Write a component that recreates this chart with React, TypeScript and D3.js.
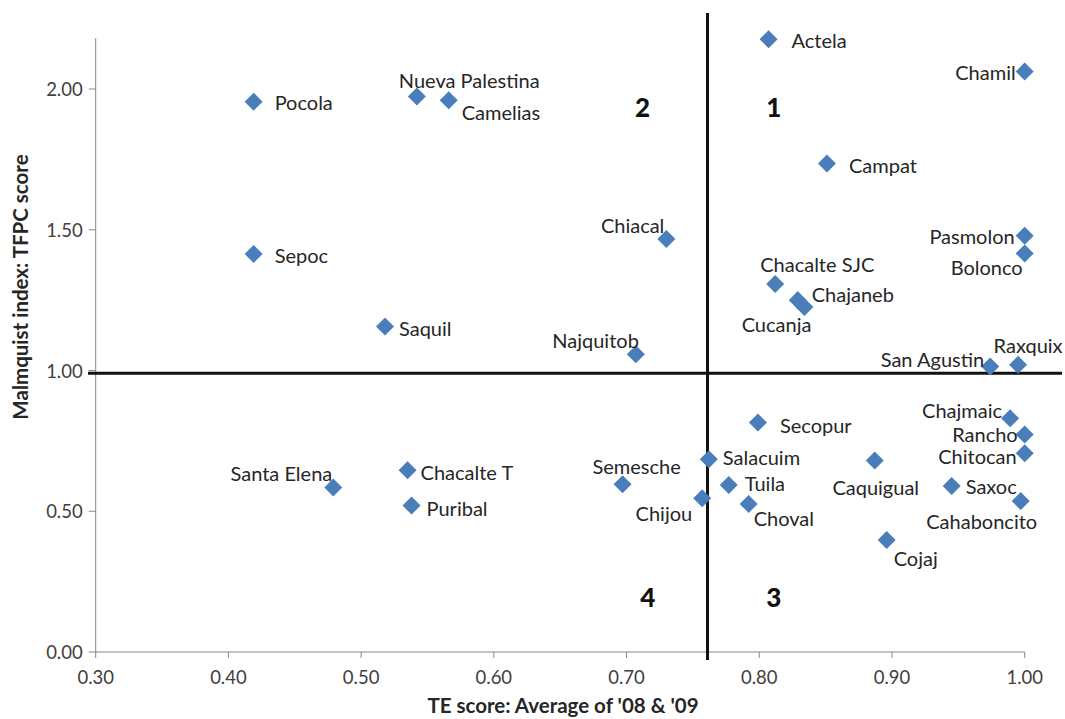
import React from 'react';
import * as d3 from 'd3';

// ---- data ----
const names = [
  'Pocola', 'Sepoc', 'Nueva Palestina', 'Camelias', 'Saquil', 'Chiacal', 'Najquitob',
  'Actela', 'Chamil', 'Campat', 'Pasmolon', 'Bolonco', 'Chacalte SJC', 'Chajaneb', 'Cucanja',
  'San Agustin', 'Raxquix', 'Chajmaic', 'Rancho', 'Chitocan', 'Saxoc', 'Cahaboncito',
  'Secopur', 'Salacuim', 'Semesche', 'Chijou', 'Tuila', 'Choval', 'Caquigual', 'Cojaj',
  'Santa Elena', 'Chacalte T', 'Puribal',
];
const teScores = [
  0.419, 0.419, 0.542, 0.566, 0.518, 0.730, 0.707,
  0.807, 1.000, 0.851, 1.000, 1.000, 0.812, 0.829, 0.834,
  0.974, 0.995, 0.989, 1.000, 1.000, 0.945, 0.997,
  0.799, 0.762, 0.697, 0.757, 0.777, 0.792, 0.887, 0.896,
  0.479, 0.535, 0.538,
];
const tfpcScores = [
  1.955, 1.414, 1.973, 1.960, 1.156, 1.467, 1.058,
  2.177, 2.062, 1.735, 1.479, 1.416, 1.307, 1.250, 1.226,
  1.014, 1.020, 0.830, 0.773, 0.706, 0.590, 0.536,
  0.815, 0.685, 0.596, 0.546, 0.593, 0.526, 0.680, 0.398,
  0.584, 0.646, 0.520,
];
const xTicks = [0.3, 0.4, 0.5, 0.6, 0.7, 0.8, 0.9, 1.0];
const yTicks = [0, 0.5, 1.0, 1.5, 2.0];
const teThreshold = 0.761;
const tfpcThreshold = 0.99;
const quadrantNames = ['1', '2', '3', '4'];
const quadrantTE = [0.811, 0.712, 0.811, 0.716];
const quadrantTFPC = [1.936, 1.936, 0.195, 0.195];
const xTitle = "TE score: Average of '08 & '09";
const yTitle = 'Malmquist index: TFPC score';

// ---- label placement (layout) ----
const labelAnchor = [
  'start', 'start', 'start', 'start', 'start', 'end', 'end',
  'start', 'end', 'start', 'end', 'end', 'start', 'start', 'end',
  'end', 'middle', 'end', 'end', 'end', 'start', 'middle',
  'start', 'start', 'middle', 'end', 'start', 'start', 'middle', 'start',
  'end', 'start', 'start',
];
const labelDx = [
  21, 21, -18, 13, 14, -2, 3,
  23, -9, 22, -10, -2, -15, 14, 7,
  -6, 10, -8, -7, -8, 14, -39,
  22, 14, 14, -10, 16, 5, 1, 7,
  -1, 13, 15,
];
const labelDy = [
  0, 1, -17, 12, 1, -14, -14,
  1, 0, 1, 0, 14, -20, -6, 17,
  -8, -20, -8, 0, 3, 0, 20,
  2, -2, -18, 15, -2, 14, 26, 18,
  -15, 2, 2,
];

const W = 1065;
const H = 719;
const FONT = 'Lato, "Open Sans", "Liberation Sans", sans-serif';

export default function App() {
  const x = d3.scaleLinear().domain([0.3, 1.0]).range([95.7, 1024.7]);
  const y = d3.scaleLinear().domain([0, 2]).range([652, 89]);
  const yTop = 2.18;
  const diamond = d3.symbol().type(d3.symbolSquare).size(162)() as string;
  const axisColor = '#868686';

  return (
    <svg width={W} height={H} style={{ position: 'absolute', left: 0, top: 0, background: '#fff' }}
      fontFamily={FONT}>
      <rect width={W} height={H} fill="#fff" />
      {/* axes */}
      <line x1={x(0.3)} x2={x(0.3)} y1={y(0)} y2={y(yTop)} stroke={axisColor} strokeWidth={1} />
      <line x1={x(0.3)} x2={x(1.0)} y1={y(0)} y2={y(0)} stroke={axisColor} strokeWidth={1} />
      {yTicks.map((t) => (
        <g key={'yt' + t}>
          <line x1={x(0.3) - 7} x2={x(0.3)} y1={y(t)} y2={y(t)} stroke={axisColor} />
          <text x={x(0.3) - 13} y={y(t)} textAnchor="end" dominantBaseline="central"
            fontSize={18.5} fill="#404040">{d3.format('.2f')(t)}</text>
        </g>
      ))}
      {xTicks.map((t) => (
        <g key={'xt' + t}>
          <line x1={x(t)} x2={x(t)} y1={y(0)} y2={y(0) + 6} stroke={axisColor} />
          <text x={x(t)} y={y(0) + 25} textAnchor="middle" dominantBaseline="central"
            fontSize={18.5} fill="#404040">{d3.format('.2f')(t)}</text>
        </g>
      ))}
      {/* titles */}
      <text x={563} y={713} textAnchor="middle" fontSize={20.5} fontWeight="bold" fill="#262626">{xTitle}</text>
      <text transform={`translate(28,287) rotate(-90)`} textAnchor="middle" fontSize={20.5}
        fontWeight="bold" fill="#262626">{yTitle}</text>
      {/* reference lines */}
      <line x1={88} x2={1062} y1={y(tfpcThreshold)} y2={y(tfpcThreshold)} stroke="#111" strokeWidth={3} />
      <line x1={x(teThreshold)} x2={x(teThreshold)} y1={13} y2={660} stroke="#111" strokeWidth={3} />
      {/* quadrant numbers */}
      {quadrantNames.map((q, i) => (
        <text key={'q' + q} x={x(quadrantTE[i])} y={y(quadrantTFPC[i])} textAnchor="middle"
          dominantBaseline="central" fontSize={26} fontWeight="900" fill="#111">{q}</text>
      ))}
      {/* points */}
      {names.map((n, i) => (
        <path key={'p' + n} d={diamond}
          transform={`translate(${x(teScores[i])},${y(tfpcScores[i])}) rotate(45)`} fill="#4A7EBB" />
      ))}
      {/* labels */}
      {names.map((n, i) => (
        <text key={'l' + n} x={x(teScores[i]) + labelDx[i]} y={y(tfpcScores[i]) + labelDy[i]}
          textAnchor={labelAnchor[i] as any} dominantBaseline="central" fontSize={20} fill="#262626">{n}</text>
      ))}
    </svg>
  );
}
